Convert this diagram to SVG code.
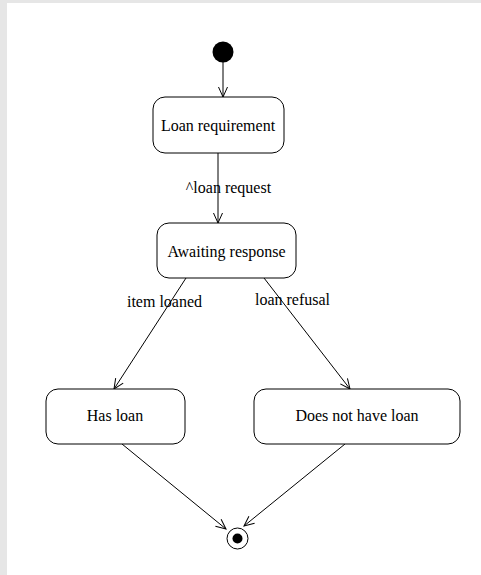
<svg xmlns="http://www.w3.org/2000/svg" width="481" height="575" viewBox="0 0 481 575">
<defs>
<style>
.state rect{fill:#fff;stroke:#000;stroke-width:1}
text{font-family:"Liberation Serif","Times New Roman",serif;font-size:16px;fill:#000}
.lbl{text-anchor:middle}
.conn line{stroke:#000;stroke-width:1;fill:none}
</style>
<marker id="open" markerUnits="userSpaceOnUse" markerWidth="14" markerHeight="14" viewBox="-12 -7 14 14" refX="0" refY="0" orient="auto">
<path d="M-10,-4.5 L0,0 L-10,4.5" fill="none" stroke="#000" stroke-width="1"/>
</marker>
</defs>
<rect x="0" y="0" width="481" height="575" fill="#fff"/>
<rect x="0" y="0" width="481" height="3" fill="#e6e6e6"/>
<rect x="0" y="0" width="7" height="575" fill="#e6e6e6"/>
<g id="connectors" class="conn">
<line x1="223" y1="62" x2="223" y2="97" marker-end="url(#open)"/>
<line x1="218" y1="153" x2="218" y2="223" marker-end="url(#open)"/>
<line x1="186" y1="278" x2="114" y2="389" marker-end="url(#open)"/>
<line x1="264" y1="278" x2="350" y2="389" marker-end="url(#open)"/>
<line x1="122" y1="444" x2="226" y2="529" marker-end="url(#open)"/>
<line x1="345" y1="444" x2="244" y2="526" marker-end="url(#open)"/>
<text class="lbl" x="228.5" y="193">^loan request</text>
<text class="lbl" x="164.5" y="306.5">item loaned</text>
<text class="lbl" x="292.5" y="305">loan refusal</text>
</g>
<g id="initial"><circle cx="223" cy="52" r="10.5" fill="#000"/></g>
<g id="loan-requirement" class="state">
<rect x="153" y="97" width="131" height="56" rx="12"/>
<text class="lbl" x="218" y="131">Loan requirement</text>
</g>
<g id="awaiting-response" class="state">
<rect x="157" y="223" width="139" height="55" rx="12"/>
<text class="lbl" x="226.5" y="256.5">Awaiting response</text>
</g>
<g id="has-loan" class="state">
<rect x="46" y="389" width="139" height="55" rx="12"/>
<text class="lbl" x="115" y="421">Has loan</text>
</g>
<g id="no-loan" class="state">
<rect x="254" y="389" width="206" height="55" rx="12"/>
<text class="lbl" x="357" y="421">Does not have loan</text>
</g>
<g id="final">
<circle cx="237.5" cy="538.5" r="10.5" fill="#fff" stroke="#000" stroke-width="1"/>
<circle cx="237.5" cy="538.5" r="5" fill="#000"/>
</g>
</svg>
